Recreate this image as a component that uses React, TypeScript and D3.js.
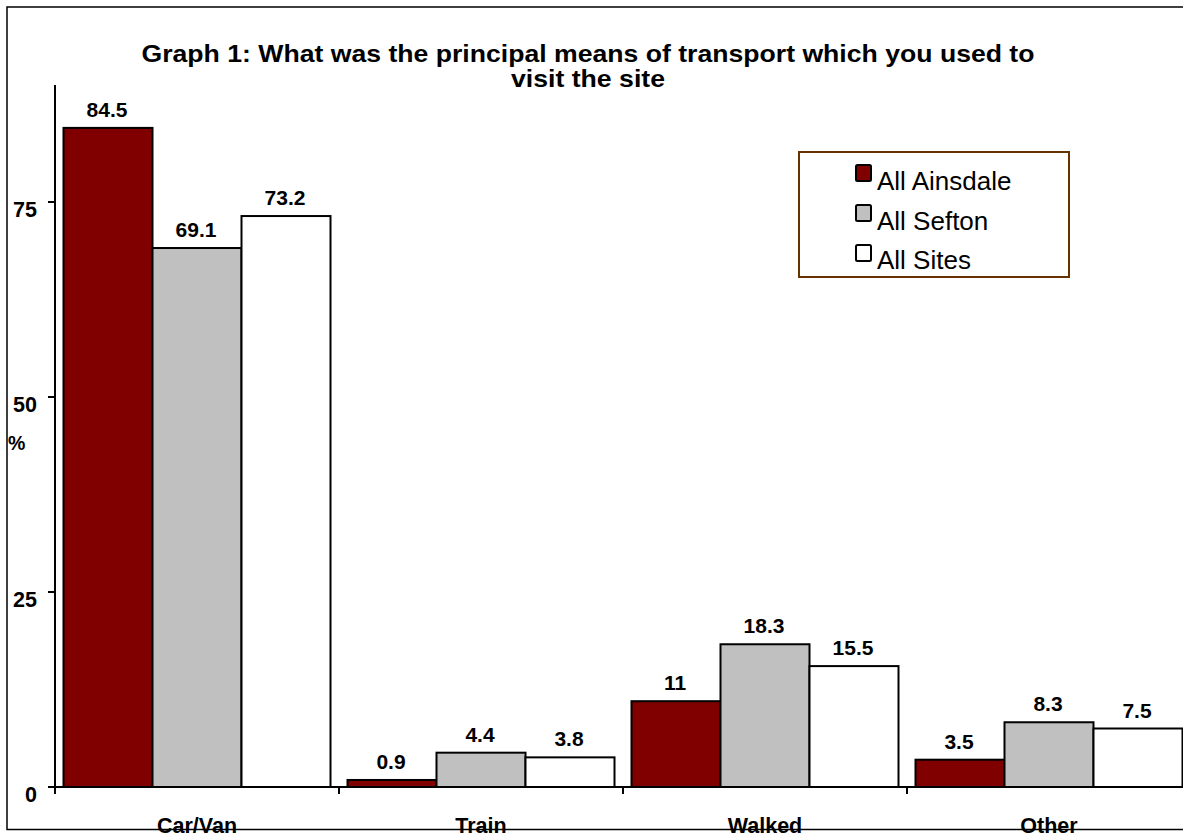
import React from "react";
import * as d3 from "d3";

const categories = ["Car/Van", "Train", "Walked", "Other"];
const seriesNames = ["All Ainsdale", "All Sefton", "All Sites"];
const ainsdale = [84.5, 0.9, 11, 3.5];
const sefton = [69.1, 4.4, 18.3, 8.3];
const allSites = [73.2, 3.8, 15.5, 7.5];
const yTicks = [0, 25, 50, 75];
const seriesColors = ["#800000", "#C0C0C0", "#FFFFFF"];
const titleLines = [
  "Graph 1: What was the principal means of transport which you used to",
  "visit the site",
];

const FONT = "'Liberation Sans', Arial, Helvetica, sans-serif";

export default function App() {
  const W = 1183;
  const H = 834;
  const values = [ainsdale, sefton, allSites];

  const x0 = d3.scaleBand<string>().domain(categories).range([55, 1191]).padding(0);
  const x1 = d3
    .scaleBand<string>()
    .domain(seriesNames)
    .range([8.5, x0.bandwidth() - 8.5])
    .padding(0);
  const y = d3.scaleLinear().domain([0, 90]).range([787, 85]);

  const fmt = (v: number) => String(v);
  const titleWidths = [893, 154];

  return (
    <div style={{ position: "fixed", left: 0, top: 0 }}>
      <svg width={W} height={H} style={{ display: "block", background: "#fff" }} fontFamily={FONT}>
        <rect x={0} y={0} width={W} height={H} fill="#fff" />
        {/* title */}
        {titleLines.map((t, i) => (
          <text
            key={i}
            x={588}
            y={61.5 + i * 25.5}
            textAnchor="middle"
            fontSize={24}
            fontWeight="bold"
            fill="#000"
            textLength={titleWidths[i]}
            lengthAdjust="spacingAndGlyphs"
          >
            {t}
          </text>
        ))}

        {/* bars */}
        {categories.map((c, ci) =>
          seriesNames.map((s, si) => {
            const v = values[si][ci];
            const bx = (x0(c) as number) + (x1(s) as number);
            const bw = x1.bandwidth();
            return (
              <g key={c + s}>
                <rect
                  x={bx}
                  y={y(v)}
                  width={bw}
                  height={y(0) - y(v)}
                  fill={seriesColors[si]}
                  stroke="#000"
                  strokeWidth={2}
                />
                <text
                  x={bx + bw / 2 - 1}
                  y={y(v) - 11}
                  textAnchor="middle"
                  fontSize={21}
                  fontWeight="bold"
                  fill="#000"
                >
                  {fmt(v)}
                </text>
              </g>
            );
          })
        )}

        {/* y axis */}
        <line x1={55} x2={55} y1={y(90)} y2={794} stroke="#000" strokeWidth={2} />
        {yTicks.map((t) => (
          <g key={t}>
            <line x1={48} x2={55} y1={y(t)} y2={y(t)} stroke="#000" strokeWidth={2} />
            <text x={37} y={y(t) + 15} textAnchor="end" fontSize={21.5} fontWeight="bold" fill="#000">
              {t}
            </text>
          </g>
        ))}
        <text x={8} y={450} fontSize={19.5} fontWeight="bold" fill="#000">
          %
        </text>

        {/* x axis */}
        <line x1={55} x2={1191} y1={y(0)} y2={y(0)} stroke="#000" strokeWidth={2} />
        {categories.map((c, ci) =>
          ci === 0 ? null : (
            <line
              key={c}
              x1={x0(c) as number}
              x2={x0(c) as number}
              y1={y(0)}
              y2={794}
              stroke="#000"
              strokeWidth={2}
            />
          )
        )}
        {categories.map((c) => (
          <text
            key={c}
            x={(x0(c) as number) + x0.bandwidth() / 2}
            y={833}
            textAnchor="middle"
            fontSize={21.5}
            fontWeight="bold"
            fill="#000"
          >
            {c}
          </text>
        ))}

        {/* legend */}
        <rect x={799} y={152} width={270} height={125} fill="#fff" stroke="#663300" strokeWidth={2} />
        {seriesNames.map((s, i) => (
          <g key={s}>
            <rect
              x={856}
              y={165 + i * 40}
              width={15}
              height={16}
              rx={1.5}
              fill={seriesColors[i]}
              stroke="#000"
              strokeWidth={2}
            />
            <text x={877} y={190 + i * 39.5} fontSize={26} fill="#000">
              {s}
            </text>
          </g>
        ))}

        {/* outer frame */}
        <rect x={7} y={7} width={1200} height={822.5} fill="none" stroke="#000" strokeWidth={1.5} />
      </svg>
    </div>
  );
}
